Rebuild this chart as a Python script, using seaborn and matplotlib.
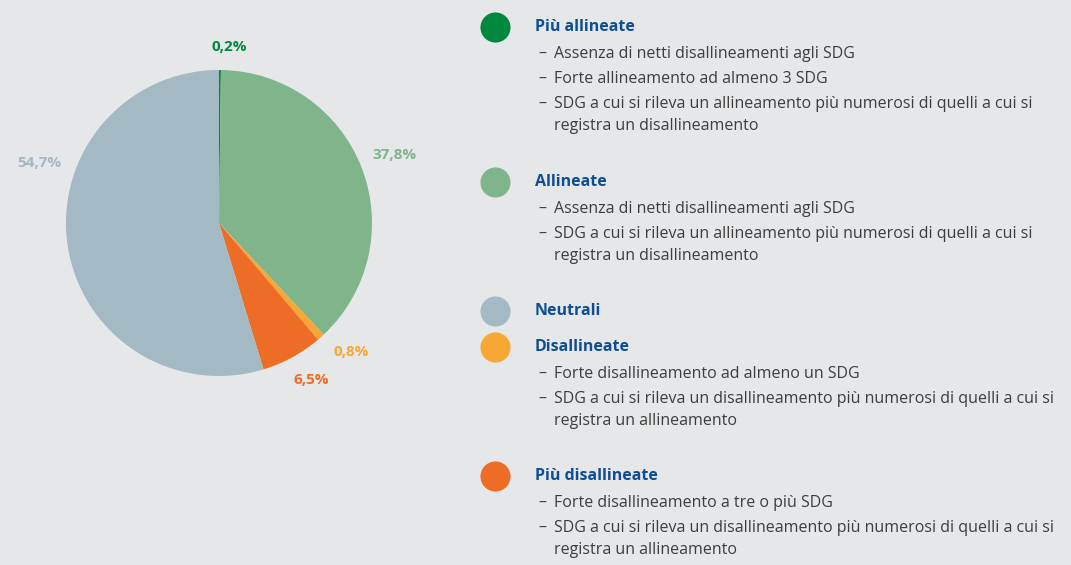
import matplotlib
matplotlib.use("Agg")
import matplotlib.pyplot as plt
import seaborn as sns
import numpy as np

# --- Data ---
categories = ["Più allineate", "Allineate", "Disallineate", "Più disallineate", "Neutrali"]
shares = [0.2, 37.8, 0.8, 6.5, 54.7]
share_labels = ["0,2%", "37,8%", "0,8%", "6,5%", "54,7%"]
colors = ["#00883e", "#80b48a", "#f7a733", "#ed6c26", "#a3b9c3"]

legend_titles = ["Più allineate", "Allineate", "Neutrali", "Disallineate", "Più disallineate"]
legend_colors = ["#00883e", "#80b48a", "#a3b9c3", "#f7a733", "#ed6c26"]
legend_bullets = [
    ["Assenza di netti disallineamenti agli SDG",
     "Forte allineamento ad almeno 3 SDG",
     "SDG a cui si rileva un allineamento più numerosi di quelli a cui si\nregistra un disallineamento"],
    ["Assenza di netti disallineamenti agli SDG",
     "SDG a cui si rileva un allineamento più numerosi di quelli a cui si\nregistra un disallineamento"],
    [],
    ["Forte disallineamento ad almeno un SDG",
     "SDG a cui si rileva un disallineamento più numerosi di quelli a cui si\nregistra un allineamento"],
    ["Forte disallineamento a tre o più SDG",
     "SDG a cui si rileva un disallineamento più numerosi di quelli a cui si\nregistra un allineamento"],
]

# --- Style ---
BG = "#e6e7e9"
TITLE_BLUE = "#0f4e92"
TEXT_GREY = "#3d3d3d"
sns.set_theme(style="white")
plt.rcParams["font.family"] = ["Open Sans", "DejaVu Sans"]

W, H = 1071, 565
fig = plt.figure(figsize=(W / 100, H / 100), dpi=100, facecolor=BG)

# pie axes placed by pixel box (centre ~ (219, 223), radius ~153)
cx, cy, r = 219, 223, 153
ax = fig.add_axes([(cx - r) / W, (H - cy - r) / H, 2 * r / W, 2 * r / H])
ax.set_facecolor(BG)
wedges, _ = ax.pie(shares, colors=colors, startangle=90, counterclock=False,
                   radius=1, wedgeprops=dict(linewidth=0))
ax.set_xlim(-1, 1)
ax.set_ylim(-1, 1)
ax.set_aspect("equal")
ax.axis("off")

# label placement: (angle offset in deg, distance)
label_adjust = [(-3, 1.15), (0, 1.23), (4, 1.21), (2, 1.19), (-27, 1.24)]
for w, lab, col, (dang, dist) in zip(wedges, share_labels, colors, label_adjust):
    ang = np.deg2rad((w.theta1 + w.theta2) / 2 + dang)
    ax.text(dist * np.cos(ang), dist * np.sin(ang), lab, color=col,
            fontsize=11, fontweight="bold", ha="center", va="center",
            clip_on=False)

# --- Legend drawn on a full-figure overlay in pixel units ---
lax = fig.add_axes([0, 0, 1, 1])
lax.set_xlim(0, W)
lax.set_ylim(H, 0)
lax.axis("off")
lax.patch.set_alpha(0)

title_y = [27, 182, 311, 347, 476]
for ty, title, col, bullets in zip(title_y, legend_titles, legend_colors, legend_bullets):
    lax.scatter([495], [ty], s=470, color=col, linewidths=0)
    lax.text(535, ty, title, color=TITLE_BLUE, fontsize=11.5, fontweight="bold",
             va="center", ha="left")
    y = ty + 27
    for b in bullets:
        lax.text(538, y, "–", color=TEXT_GREY, fontsize=11.5, va="center", ha="left")
        lines = b.split("\n")
        for i, line in enumerate(lines):
            lax.text(554, y + i * 22, line, color=TEXT_GREY, fontsize=11.5,
                     va="center", ha="left")
        y += 25 + 22 * (len(lines) - 1)

fig.savefig("out.png", dpi=100, facecolor=BG)
